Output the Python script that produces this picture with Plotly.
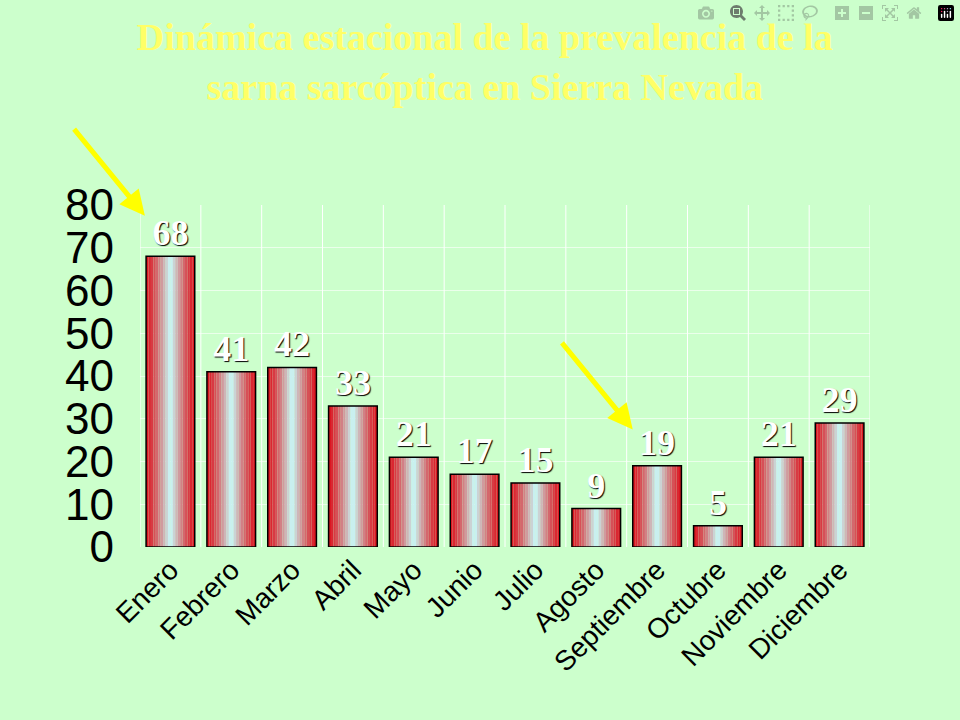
import plotly.graph_objects as go

months = ["Enero","Febrero","Marzo","Abril","Mayo","Junio","Julio","Agosto","Septiembre","Octubre","Noviembre","Diciembre"]
values = [68, 41, 42, 33, 21, 17, 15, 9, 19, 5, 21, 29]
yticks = [0, 10, 20, 30, 40, 50, 60, 70, 80]

xs = list(range(len(months)))
fig = go.Figure()
W = 0.8
N = 20
red = (220, 20, 30)
cyan = (200, 255, 255)
for i in range(N):
    c = (i + 0.5) / N
    t = 1 - abs(2 * c - 1)
    t = t ** 1.3
    col = tuple(int(red[k] + (cyan[k] - red[k]) * t) for k in range(3))
    fig.add_bar(x=xs, y=values, width=W / N, offset=-W / 2 + i * W / N,
                marker=dict(color="rgb(%d,%d,%d)" % col, line=dict(width=0)),
                showlegend=False, hoverinfo="skip")
fig.add_bar(x=xs, y=values, width=W, offset=-W / 2,
            marker=dict(color="rgba(0,0,0,0)", line=dict(color="black", width=1.5)),
            text=[str(v) for v in values], textposition="outside",
            textfont=dict(family="Liberation Serif", size=36, color="white",
                          weight="bold", shadow="1px 1px 1px black"),
            cliponaxis=False, showlegend=False)

fig.update_layout(
    width=960, height=720, barmode="overlay",
    paper_bgcolor="#CCFFCC", plot_bgcolor="#CCFFCC",
    margin=dict(l=140, r=90, t=205, b=173),
    title=dict(text="Dinámica estacional de la prevalencia de la<br>sarna sarcóptica en Sierra Nevada",
               x=0.505, xanchor="center", y=0.93, yanchor="top",
               font=dict(family="Liberation Serif", size=38, color="#FFFF66", weight="bold")),
    xaxis=dict(tickvals=xs, ticktext=months, tickangle=-45, range=[-0.5, 11.5],
               tickfont=dict(family="Liberation Sans", size=28, color="black"),
               showgrid=False, showline=False, ticks=""),
    yaxis=dict(range=[0, 80], tickvals=yticks, ticks="", ticklabelstandoff=25,
               tickfont=dict(family="Liberation Sans Narrow, Liberation Sans", size=44, color="black"),
               gridcolor="rgba(255,255,255,0.6)", zeroline=False),
    annotations=[
        dict(x=-0.42, y=77.5, xref="x", yref="y", ax=-72, ay=-88, showarrow=True,
             arrowhead=2, arrowsize=1, arrowwidth=5, arrowcolor="yellow", text=""),
        dict(x=7.6, y=27.5, xref="x", yref="y", ax=-72, ay=-88, showarrow=True,
             arrowhead=2, arrowsize=1, arrowwidth=5, arrowcolor="yellow", text=""),
    ],
    shapes=[dict(type="line", xref="x", yref="paper", x0=i + 0.5, x1=i + 0.5, y0=0, y1=1,
                 line=dict(color="white", width=1), layer="below") for i in range(-1, 12)],
)
fig.write_html("out.html", post_script="document.body.style.margin='0';document.body.style.background='#CCFFCC';")
